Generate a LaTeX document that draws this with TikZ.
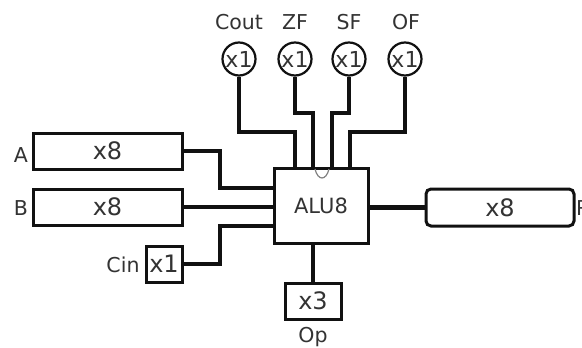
\documentclass[tikz,border=0pt]{standalone}
\usepackage{fontspec}
\setmainfont{DejaVu Sans}
\usetikzlibrary{positioning,calc}
\definecolor{pinink}{HTML}{111111}
\definecolor{labelink}{HTML}{333333}
\tikzset{
  pinbox/.style={draw=pinink, line width=3pt, minimum height=36pt, inner sep=0pt,
                 font=\fontsize{24}{26}\selectfont, text=labelink},
  pinround/.style={circle, draw=pinink, line width=2.2pt, minimum size=33pt,
                   inner sep=0pt, font=\fontsize{22}{24}\selectfont, text=labelink},
  pinlabel/.style={inner sep=0pt, font=\fontsize{20.5}{22}\selectfont, text=labelink},
  wire/.style={line width=4.5pt, draw=pinink, line join=miter}}

\begin{document}
\begin{tikzpicture}[x=1pt, y=-1pt,
         alubox/.style={draw=pinink, line width=3pt, minimum width=94pt,
                        minimum height=75pt, inner sep=0pt,
                        font=\fontsize{21}{23}\selectfont, text=labelink}]
        \useasboundingbox (0,0) rectangle (582,348);
        \node[alubox] (alu) at (321,205.5) {ALU8};
        % pins on the unit
        \coordinate (aluA)    at (274,188);
        \coordinate (aluB)    at (274,207);
        \coordinate (aluCin)  at (274,226);
        \coordinate (aluCout) at (295,168);
        \coordinate (aluZF)   at (313,168);
        \coordinate (aluSF)   at (332,168);
        \coordinate (aluOF)   at (350,168);
        \draw[gray, line width=1.2pt] (315,169) .. controls (318,181) and (326,181) .. (329,169);
        % inputs
        \node[pinbox, minimum width=149pt] (inA) at (107.5,151) {x8};
        \node[pinlabel] (labA) at (21,155) {A};
        \node[pinbox, minimum width=149pt] (inB) at (107.5,207) {x8};
        \node[pinlabel] (labB) at (21,208) {B};
        \node[pinbox, minimum width=36pt] (inCin) at (164,264) {x1};
        \node[pinlabel] (labCin) at (123,265) {Cin};
        \node[pinbox, minimum width=56pt] (inOp) at (313,301) {x3};
        \node[pinlabel] (labOp) at (313,337) {Op};
        \draw[wire] (inA.east) -- (220,151) |- (aluA);
        \draw[wire] (inB.east) -- (aluB);
        \draw[wire] (inCin.east) -- (220,264) |- (aluCin);
        \draw[wire] (inOp.north) -- (inOp.north |- alu.south);
        % flags
        \node[pinround] (cout) at (239,59) {x1};
        \node[pinround] (zf)   at (295,59) {x1};
        \node[pinround] (sf)   at (349,59) {x1};
        \node[pinround] (of)   at (405,59) {x1};
        \node[pinlabel] (labCout) at (239,22) {Cout};
        \node[pinlabel] (labZF)   at (295,22) {ZF};
        \node[pinlabel] (labSF)   at (349,22) {SF};
        \node[pinlabel] (labOF)   at (406,22) {OF};
        \draw[wire] (cout.south) -- (239,132) -| (aluCout);
        \draw[wire] (zf.south) -- (295,113) -| (aluZF);
        \draw[wire] (sf.south) -- (349,113) -| (aluSF);
        \draw[wire] (of.south) -- (405,132) -| (aluOF);
        % result
        \node[pinbox, minimum width=148pt, minimum height=37pt, rounded corners=5pt]
          (outR) at (500,207.5) {x8};
        \node[pinlabel, anchor=west] (labR) at (576,208) {R};
        \draw[wire] (alu.east |- outR.west) -- (outR.west);
      \end{tikzpicture}
\end{document}
